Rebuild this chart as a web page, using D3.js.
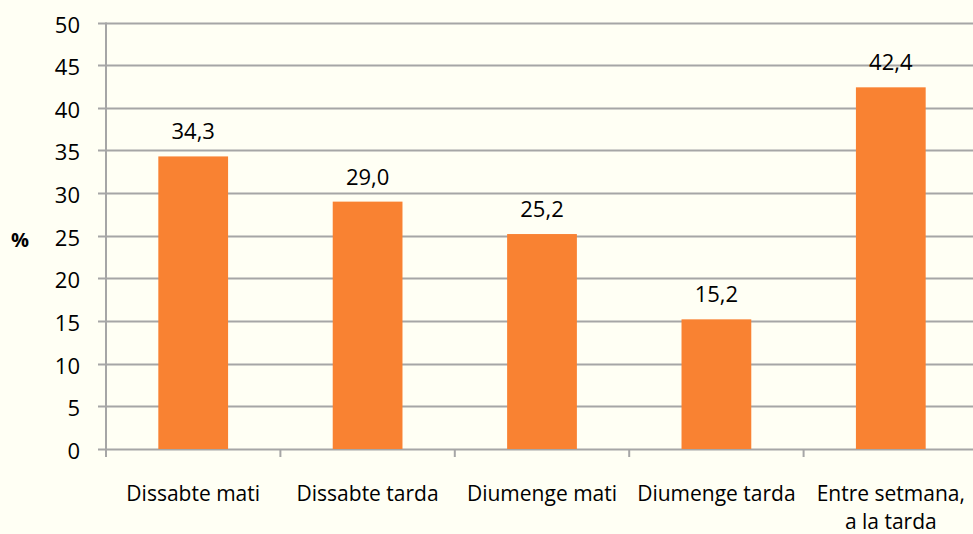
<!DOCTYPE html>
<html>
<head>
<meta charset="utf-8">
<script src="https://cdn.jsdelivr.net/npm/d3@7"></script>
<style>
  html, body { margin: 0; padding: 0; background: #fffff4; }
  svg { display: block; font-family: "Open Sans", sans-serif; }
</style>
</head>
<body>
<script>
const WIDTH = 973;
const HEIGHT = 534;

const categories = ["Dissabte mati", "Dissabte tarda", "Diumenge mati", "Diumenge tarda", "Entre setmana,\na la tarda"];
const values = [34.3, 29.0, 25.2, 15.2, 42.4];
const yTicks = [0, 5, 10, 15, 20, 25, 30, 35, 40, 45, 50];

const BAR_COLOR = "#f98232";
const GRID_COLOR = "#a6a6a6";

const svg = d3.select("body").append("svg")
    .attr("width", WIDTH)
    .attr("height", HEIGHT);

const x = d3.scaleBand()
    .domain(categories)
    .range([106, 978])
    .paddingInner(0.6)
    .paddingOuter(0.3);

// band boundaries for the category ticks
const step = x.step();
const x0 = 106;

const y = d3.scaleLinear()
    .domain([0, 50])
    .range([449, 22.5]);

// grid lines
svg.append("g").selectAll("line")
    .data(yTicks)
    .enter().append("line")
    .attr("x1", 98)
    .attr("x2", WIDTH)
    .attr("y1", d => Math.round(y(d)) + 0.5)
    .attr("y2", d => Math.round(y(d)) + 0.5)
    .attr("stroke", GRID_COLOR)
    .attr("stroke-width", 2);

// y tick labels
svg.append("g").selectAll("text")
    .data(yTicks)
    .enter().append("text")
    .attr("x", 80)
    .attr("y", d => y(d) + 10)
    .attr("text-anchor", "end")
    .attr("font-size", 22)
    .attr("fill", "#000")
    .text(d => d);

// bars
svg.append("g").selectAll("rect")
    .data(values)
    .enter().append("rect")
    .attr("x", (d, i) => x(categories[i]))
    .attr("width", x.bandwidth())
    .attr("y", d => y(d))
    .attr("height", d => y(0) - y(d))
    .attr("fill", BAR_COLOR);

// value labels
svg.append("g").selectAll("text")
    .data(values)
    .enter().append("text")
    .attr("x", (d, i) => x(categories[i]) + x.bandwidth() / 2)
    .attr("y", d => y(d) - 17)
    .attr("text-anchor", "middle")
    .attr("font-size", 22)
    .text(d => d.toFixed(1).replace(".", ","));

// axis lines
svg.append("line")
    .attr("x1", x0).attr("x2", x0)
    .attr("y1", y(50)).attr("y2", y(0) + 8)
    .attr("stroke", GRID_COLOR).attr("stroke-width", 2);

svg.append("g").selectAll("line")
    .data(d3.range(categories.length + 1))
    .enter().append("line")
    .attr("x1", d => x0 + d * step)
    .attr("x2", d => x0 + d * step)
    .attr("y1", y(0))
    .attr("y2", y(0) + 8)
    .attr("stroke", GRID_COLOR).attr("stroke-width", 2);

// category labels
const catLabels = svg.append("g").selectAll("text")
    .data(categories)
    .enter().append("text")
    .attr("x", d => x(d) + x.bandwidth() / 2)
    .attr("y", 501)
    .attr("text-anchor", "middle")
    .attr("font-size", 21);

catLabels.selectAll("tspan")
    .data(d => d.split("\n"))
    .enter().append("tspan")
    .attr("x", function () { return d3.select(this.parentNode).attr("x"); })
    .attr("dy", (d, i) => i === 0 ? 0 : 28)
    .text(d => d);

// y axis title
svg.append("text")
    .attr("x", 20)
    .attr("y", 247)
    .attr("text-anchor", "middle")
    .attr("font-size", 20)
    .attr("font-weight", "bold")
    .text("%");
</script>
</body>
</html>
